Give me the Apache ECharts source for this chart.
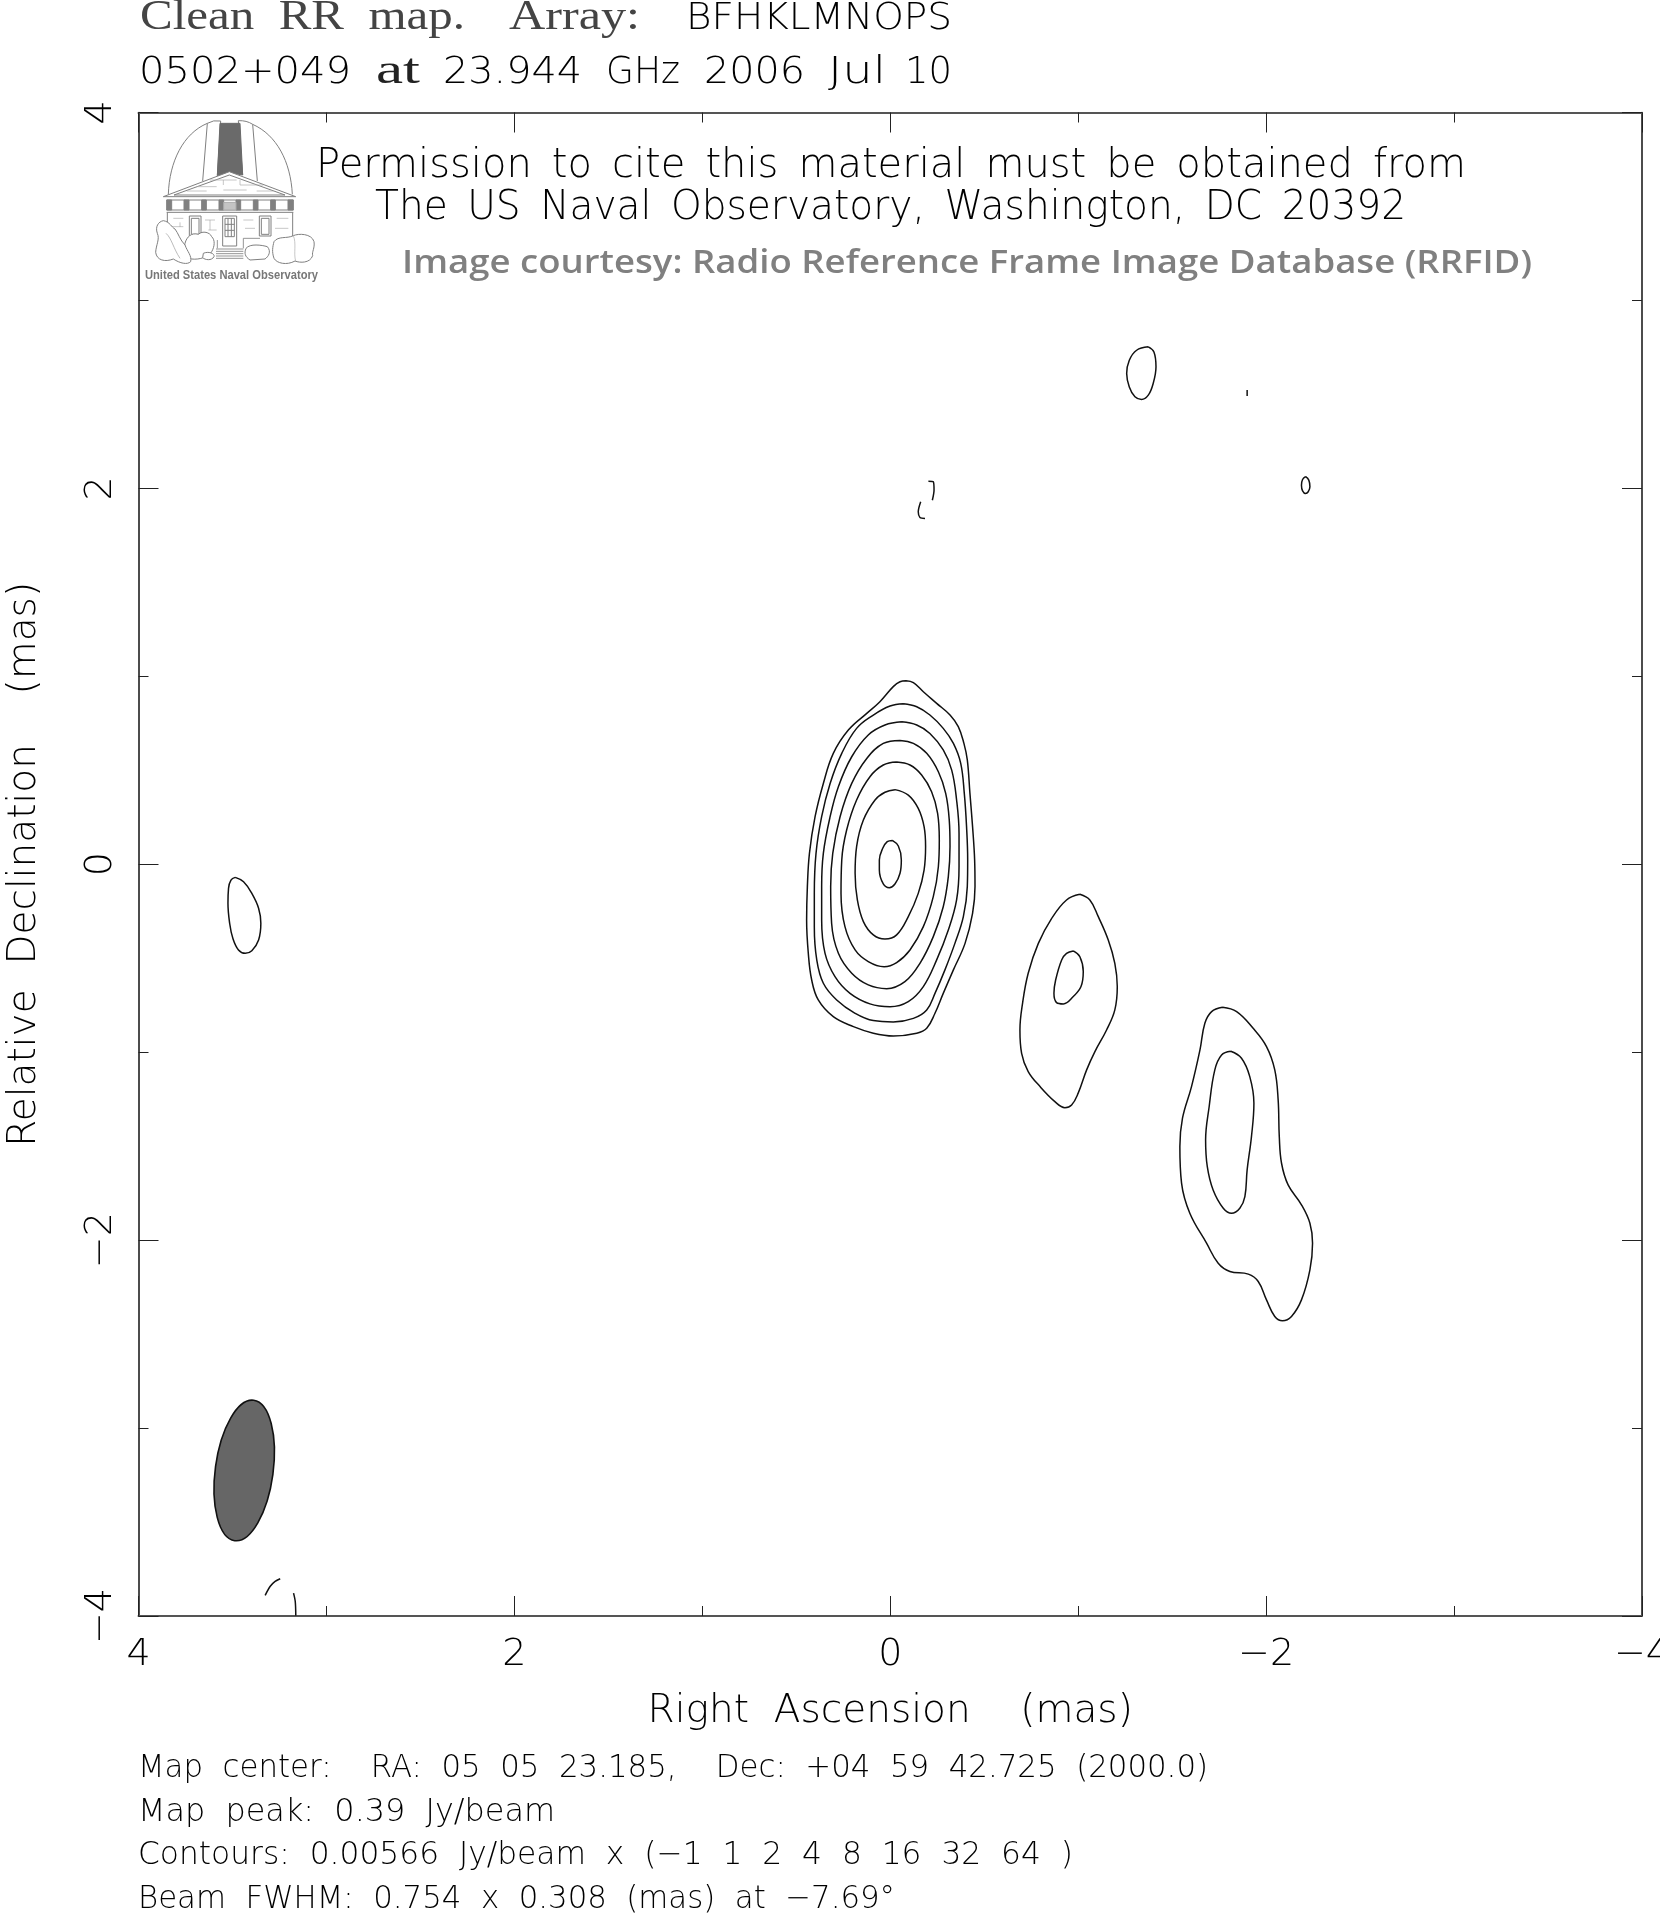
<!DOCTYPE html>
<html><head><meta charset="utf-8">
<style>html,body{margin:0;padding:0;background:#fff}#c{width:1660px;height:1916px}</style>
<script src="https://cdn.jsdelivr.net/npm/echarts@6/dist/echarts.min.js"></script>
</head><body><div id="c"></div>
<script>
// Contour rings around the core, outermost first: [RA offset, Dec offset] in mas
const core1=[[-0.084,0.976],[-0.123,0.966],[-0.176,0.918],[-0.247,0.856],[-0.318,0.794],[-0.362,0.732],[-0.392,0.643],[-0.410,0.555],[-0.424,0.377],[-0.438,0.200],[-0.449,0.023],[-0.451,-0.119],[-0.438,-0.261],[-0.398,-0.421],[-0.336,-0.562],[-0.282,-0.687],[-0.238,-0.793],[-0.194,-0.873],[-0.141,-0.899],[-0.016,-0.914],[0.090,-0.899],[0.196,-0.864],[0.303,-0.811],[0.383,-0.722],[0.418,-0.616],[0.436,-0.474],[0.445,-0.297],[0.441,-0.119],[0.430,0.058],[0.400,0.253],[0.356,0.430],[0.303,0.590],[0.223,0.714],[0.125,0.803],[0.055,0.865],[-0.016,0.945],[-0.052,0.971]];
const core2=[[-0.070,0.854],[-0.141,0.838],[-0.211,0.794],[-0.282,0.723],[-0.336,0.643],[-0.375,0.537],[-0.394,0.377],[-0.406,0.200],[-0.412,0.023],[-0.410,-0.119],[-0.389,-0.279],[-0.344,-0.421],[-0.291,-0.562],[-0.238,-0.687],[-0.194,-0.775],[-0.123,-0.820],[-0.016,-0.839],[0.090,-0.832],[0.187,-0.793],[0.285,-0.722],[0.356,-0.633],[0.391,-0.509],[0.404,-0.332],[0.404,-0.155],[0.395,0.058],[0.365,0.253],[0.320,0.430],[0.258,0.590],[0.179,0.723],[0.090,0.794],[0.001,0.842]];
const core3=[[-0.061,0.758],[-0.141,0.741],[-0.211,0.696],[-0.282,0.608],[-0.327,0.501],[-0.353,0.342],[-0.366,0.164],[-0.366,-0.013],[-0.353,-0.190],[-0.309,-0.350],[-0.247,-0.509],[-0.176,-0.651],[-0.096,-0.731],[0.001,-0.758],[0.108,-0.743],[0.214,-0.687],[0.294,-0.598],[0.347,-0.474],[0.365,-0.297],[0.365,-0.119],[0.356,0.058],[0.320,0.253],[0.276,0.413],[0.205,0.572],[0.117,0.688],[0.028,0.741]];
const core4=[[-0.052,0.659],[-0.123,0.643],[-0.194,0.590],[-0.256,0.492],[-0.295,0.377],[-0.314,0.235],[-0.318,0.094],[-0.309,-0.066],[-0.282,-0.226],[-0.229,-0.385],[-0.158,-0.527],[-0.078,-0.625],[0.019,-0.662],[0.117,-0.642],[0.205,-0.580],[0.276,-0.474],[0.312,-0.314],[0.317,-0.119],[0.306,0.058],[0.267,0.253],[0.205,0.430],[0.125,0.563],[0.037,0.643]];
const core5=[[-0.034,0.544],[-0.105,0.528],[-0.167,0.475],[-0.220,0.386],[-0.252,0.271],[-0.261,0.129],[-0.256,-0.013],[-0.229,-0.172],[-0.176,-0.332],[-0.105,-0.456],[-0.034,-0.523],[0.033,-0.545],[0.117,-0.518],[0.187,-0.456],[0.241,-0.332],[0.262,-0.155],[0.258,0.023],[0.232,0.182],[0.179,0.342],[0.108,0.466],[0.037,0.528]];
const core6=[[-0.025,0.397],[-0.096,0.368],[-0.149,0.297],[-0.180,0.200],[-0.188,0.094],[-0.180,-0.031],[-0.149,-0.155],[-0.096,-0.279],[-0.034,-0.376],[0.028,-0.398],[0.090,-0.376],[0.143,-0.305],[0.175,-0.190],[0.187,-0.048],[0.179,0.094],[0.143,0.235],[0.081,0.342],[0.028,0.383]];
const core7=[[-0.011,0.127],[-0.043,0.097],[-0.059,0.023],[-0.052,-0.048],[-0.025,-0.105],[0.005,-0.125],[0.037,-0.105],[0.058,-0.031],[0.058,0.023],[0.040,0.085],[0.016,0.120]];
// Jet components
const knotOuter=[[-1.009,-0.160],[-1.062,-0.190],[-1.107,-0.279],[-1.160,-0.403],[-1.195,-0.527],[-1.208,-0.651],[-1.195,-0.775],[-1.151,-0.882],[-1.089,-0.997],[-1.045,-1.094],[-1.000,-1.218],[-0.965,-1.281],[-0.929,-1.295],[-0.876,-1.263],[-0.797,-1.183],[-0.734,-1.103],[-0.699,-1.006],[-0.690,-0.882],[-0.704,-0.740],[-0.734,-0.580],[-0.788,-0.421],[-0.859,-0.288],[-0.938,-0.190]];
const knotInner=[[-0.974,-0.461],[-1.009,-0.492],[-1.027,-0.571],[-1.015,-0.651],[-0.974,-0.704],[-0.921,-0.743],[-0.885,-0.736],[-0.871,-0.687],[-0.880,-0.616],[-0.912,-0.509],[-0.938,-0.474]];
const tailOuter=[[-1.768,-0.761],[-1.843,-0.784],[-1.931,-0.873],[-2.002,-0.970],[-2.046,-1.094],[-2.064,-1.254],[-2.070,-1.449],[-2.082,-1.591],[-2.117,-1.706],[-2.188,-1.812],[-2.233,-1.910],[-2.247,-2.016],[-2.233,-2.158],[-2.188,-2.318],[-2.135,-2.406],[-2.087,-2.429],[-2.046,-2.406],[-2.002,-2.318],[-1.958,-2.220],[-1.905,-2.181],[-1.807,-2.167],[-1.745,-2.123],[-1.683,-2.016],[-1.594,-1.857],[-1.550,-1.697],[-1.541,-1.502],[-1.555,-1.351],[-1.603,-1.183],[-1.648,-0.988],[-1.674,-0.846],[-1.710,-0.784]];
const tailInner=[[-1.812,-0.995],[-1.869,-1.032],[-1.913,-1.130],[-1.935,-1.272],[-1.922,-1.449],[-1.899,-1.626],[-1.887,-1.768],[-1.860,-1.830],[-1.816,-1.857],[-1.772,-1.830],[-1.718,-1.733],[-1.687,-1.609],[-1.678,-1.467],[-1.697,-1.289],[-1.727,-1.094],[-1.763,-1.015]];
// Isolated features
const leftBlob=[[3.485,-0.070],[3.441,-0.093],[3.397,-0.155],[3.361,-0.234],[3.349,-0.314],[3.361,-0.403],[3.397,-0.460],[3.432,-0.474],[3.468,-0.456],[3.498,-0.394],[3.515,-0.314],[3.524,-0.208],[3.521,-0.128],[3.508,-0.084]];
const upperOval=[[-1.373,2.753],[-1.403,2.726],[-1.414,2.647],[-1.399,2.558],[-1.373,2.496],[-1.337,2.473],[-1.302,2.487],[-1.272,2.540],[-1.258,2.611],[-1.272,2.682],[-1.311,2.735]];
const smallOval=[[-2.210,2.062],[-2.227,2.044],[-2.233,2.008],[-2.224,1.982],[-2.210,1.973],[-2.194,1.987],[-2.188,2.017],[-2.194,2.047]];
const upperDot=[[-1.899,2.523],[-1.899,2.491]];
const arcUpperA=[[-0.203,2.038],[-0.229,2.035],[-0.233,1.991],[-0.224,1.937]];
const arcUpperB=[[-0.162,1.929],[-0.149,1.875],[-0.158,1.845],[-0.185,1.840]];
const arcLowerA=[[3.326,-3.890],[3.299,-3.842],[3.273,-3.816],[3.246,-3.802]];
const arcLowerB=[[3.175,-3.878],[3.166,-3.922],[3.163,-3.998]];
// Beam: centre RA, centre Dec, FWHM major, FWHM minor, position angle (deg)
const beam=[[3.4375,-3.2256,0.754,0.308,-7.69]];
const closedContours=[core1,core2,core3,core4,core5,core6,core7,knotOuter,knotInner,tailOuter,tailInner,leftBlob,upperOval,smallOval];
const openContours=[upperDot,arcUpperA,arcUpperB,arcLowerA,arcLowerB];
// Axis ranges and text
const axisMin=-4, axisMax=4, majorStep=2;
const xAxisTitle='Right  Ascension    (mas)';
const yAxisTitle='Relative  Declination    (mas)';

const THIN='DejaVu Sans', WEIGHT=200;
const mctx=document.createElement('canvas').getContext('2d');
function txt(t,x0,x1,base,size,opt){
  opt=opt||{};
  const font=(opt.weight||WEIGHT)+' '+size+'px "'+(opt.family||THIN)+'"';
  mctx.font=font; mctx.textBaseline='middle'; mctx.textAlign='left';
  const m=mctx.measureText(t);
  const h=mctx.measureText('H');
  const sx=(x1-x0)/m.width;
  return {type:'text',x:x0,y:base-h.actualBoundingBoxDescent,scaleX:sx,scaleY:1,silent:true,z:20,
    style:{text:t,font:font,fill:opt.fill||'#000',align:'left',verticalAlign:'middle'}};
}
const SER={family:'Liberation Serif',weight:400,fill:'#444'};
const texts=[
 txt('Clean  RR  map.',140,465,29,42,SER),
 txt('Array:',509,640,29,42,SER),
 txt('BFHKLMNOPS',686,952,29,37),
 txt('0502+049',139,351,83,37),
 txt('at',376,420,83,42,{family:'Liberation Serif',weight:400,fill:'#222'}),
 txt('23.944',443,582,83,37),
 txt('GHz',606,680,83,37),
 txt('2006',704,805,83,37),
 txt('Jul',828,886,83,37),
 txt('10',905,952,83,37),
 txt('Permission\u2002to\u2002cite\u2002this\u2002material\u2002must\u2002be\u2002obtained\u2002from',316,1466,177,40),
 txt('The\u2002US\u2002Naval\u2002Observatory,\u2002Washington,\u2002DC\u200220392',375,1406,219,40),
 txt('Image courtesy: Radio Reference Frame Image Database (RRFID)',402,1532,273,33,{family:'Open Sans',weight:600,fill:'#808080'}),
 txt('United States Naval Observatory',145,318,279,12,{family:'Liberation Sans',weight:700,fill:'#777'}),
 txt('Map  center:    RA:  05  05  23.185,    Dec:  +04  59  42.725  (2000.0)',138,1208,1777,32),
 txt('Map  peak:  0.39  Jy/beam',138,555,1821,32),
 txt('Contours:  0.00566  Jy/beam  x  (\u22121  1  2  4  8  16  32  64  )',138,1073,1864,32),
 txt('Beam  FWHM:  0.754  x  0.308  (mas)  at  \u22127.69\u00b0',138,895,1908,32)
];

// Observatory logo (line art, not data)
const ls={stroke:'#808080',lineWidth:3,fill:'none'};
function p(d,st){return {type:'path',shape:{pathData:d},style:Object.assign({},ls,st||{})};}
const logoChildren=[
 p('M115,268 C118,170 160,85 232,55'),
 p('M368,58 C440,90 482,170 487,268'),
 p('M218,228 L232,55 Q250,44 272,48 L262,212'),
 p('M338,210 L325,47 Q350,46 368,58 L382,228'),
 p('M270,55 L330,55 L338,210 L298,203 L262,212 Z',{fill:'#6a6a6a',stroke:'#6a6a6a'}),
 p('M100,275 L298,200 L497,275 Z',{fill:'#fff'}),
 p('M132,270 L298,210 L465,270 Z'),
 p('M200,245 L260,245 M240,225 L320,225 M330,240 L400,240 M170,258 L230,258 M280,255 L350,255 M380,258 L430,258 M280,225 L280,240 M330,225 L330,240',{lineWidth:2,stroke:'#aaa'}),
 p('M110,285 L490,285 M110,315 L490,315 M110,322 L490,322 M112,322 L112,432 M488,322 L488,395',{}),
 p('M110,285 h15 v30 h-15 Z M162,285 h15 v30 h-15 Z M215,285 h14 v30 h-14 Z M267,285 h14 v30 h-14 Z M318,285 h14 v30 h-14 Z M370,285 h14 v30 h-14 Z M422,285 h14 v30 h-14 Z M474,285 h16 v30 h-16 Z',{fill:'#808080'}),
 p('M281,292 h37 v23 h-37 Z',{fill:'#c4c4c4',stroke:'#aaa'}),
 p('M178,333 h35 v60 h-35 Z M184,340 h23 v48 h-23 Z M388,333 h35 v60 h-35 Z M394,340 h23 v48 h-23 Z'),
 p('M278,333 h42 v90 h-42 Z M285,340 h28 v55 h-28 Z M294,340 v55 M304,340 v55 M285,358 h28 M285,376 h28'),
 p('M130,340 h30 M120,365 h40 M225,345 h30 M235,375 h25 M340,345 h30 M345,370 h30 M440,340 h35 M435,370 h40 M150,352 v14 M240,345 v30',{lineWidth:2,stroke:'#aaa'}),
 p('M258,432 h82 M258,439 h82 M258,446 h82 M258,453 h82 M258,460 h82 M262,405 v25 M340,400 v30 M340,400 h50',{lineWidth:2.5}),
 p('M165,415 C170,395 185,382 205,388 C218,376 240,382 245,395 C256,405 254,425 245,440 C235,455 210,465 185,462 C170,455 160,435 165,415 Z',{fill:'#fff'}),
 p('M100,347 C85,350 75,365 82,385 C90,402 78,420 77,442 C80,466 105,472 130,462 C150,475 172,480 182,470 C186,452 172,440 165,420 C150,405 145,385 135,372 C125,368 120,350 100,347 Z',{fill:'#fff'}),
 p('M108,385 C125,400 130,430 150,460',{lineWidth:2,stroke:'#999'}),
 p('M220,445 C235,438 255,445 252,455 C245,468 225,465 218,458 Z',{fill:'#fff'}),
 p('M348,430 C360,415 395,420 412,425 C425,440 415,455 405,462 L360,465 C345,455 342,445 348,430 Z',{fill:'#fff'}),
 p('M432,410 C445,392 470,402 490,392 C505,385 545,385 552,410 C555,430 545,440 548,452 C540,475 510,474 495,468 C470,482 440,475 432,460 C425,440 428,425 432,410 Z',{fill:'#fff'}),
 p('M490,392 C500,415 490,445 497,468',{lineWidth:2,stroke:'#aaa'})
];

const closed=a=>a.concat([a[0]]);
const lineSeries=(d,sm)=>({type:'line',data:d,smooth:sm,showSymbol:false,symbol:'none',silent:true,animation:false,
  lineStyle:{color:'#111',width:1.5},xAxisIndex:0,yAxisIndex:0,z:5});
const series=[
 ...closedContours.map(c=>lineSeries(closed(c),0.4)),
 ...openContours.map(c=>lineSeries(c,0.3)),
 {type:'custom',data:beam,silent:true,animation:false,z:6,xAxisIndex:0,yAxisIndex:0,encode:{x:0,y:1},
  renderItem:function(params,api){
    const c=api.coord([api.value(0),api.value(1)]);
    const sz=api.size([api.value(3)/2,api.value(2)/2]);
    return {type:'ellipse',x:c[0],y:c[1],rotation:api.value(4)*Math.PI/180,
      shape:{cx:0,cy:0,rx:sz[0],ry:sz[1]},
      style:{fill:'#666666',stroke:'#111',lineWidth:1.6}};
  }},
 {type:'custom',coordinateSystem:'none',data:[[0]],silent:true,animation:false,z:15,
  renderItem:function(){
    return {type:'group',x:130,y:105,scaleX:1/3,scaleY:1/3,children:logoChildren};
  }}
];
const minus=v=>String(v).replace('-','\u2212');
const labelBase={fontFamily:THIN,fontWeight:WEIGHT,fontSize:38,color:'#000',formatter:minus,showMinLabel:true,showMaxLabel:true,hideOverlap:false};
const xa=(pos,show)=>({type:'value',position:pos,inverse:true,min:axisMin,max:axisMax,interval:majorStep,
  splitLine:{show:false},
  axisLine:{show:true,onZero:false,lineStyle:{color:'#555',width:2}},
  axisTick:{show:true,inside:true,length:20,lineStyle:{color:'#222',width:1}},
  minorTick:{show:true,splitNumber:2,length:10,lineStyle:{color:'#222',width:1}},
  axisLabel:Object.assign({show:show,margin:20},labelBase),
  name:show?xAxisTitle:'',nameLocation:'middle',nameGap:76,
  nameTextStyle:{fontFamily:THIN,fontWeight:WEIGHT,fontSize:39,color:'#000'}});
const ya=(pos,show)=>({type:'value',position:pos,min:axisMin,max:axisMax,interval:majorStep,
  splitLine:{show:false},
  axisLine:{show:true,onZero:false,lineStyle:{color:'#111',width:1.5}},
  axisTick:{show:true,inside:true,length:20,lineStyle:{color:'#222',width:1}},
  minorTick:{show:true,splitNumber:2,length:10,lineStyle:{color:'#222',width:1}},
  axisLabel:Object.assign({show:show,margin:18,rotate:90},labelBase),
  name:show?yAxisTitle:'',nameLocation:'middle',nameGap:94,
  nameTextStyle:{fontFamily:THIN,fontWeight:WEIGHT,fontSize:39,color:'#000'}});
const chart=echarts.init(document.getElementById('c'),null,{renderer:'canvas'});
chart.setOption({
  animation:false,backgroundColor:'#fff',
  grid:{left:138.5,top:112.5,width:1503.5,height:1503.5,containLabel:false,outerBoundsMode:'none'},
  xAxis:[xa('bottom',true),xa('top',false)],
  yAxis:[ya('left',true),ya('right',false)],
  series:series,
  graphic:{elements:texts}
});
</script></body></html>
